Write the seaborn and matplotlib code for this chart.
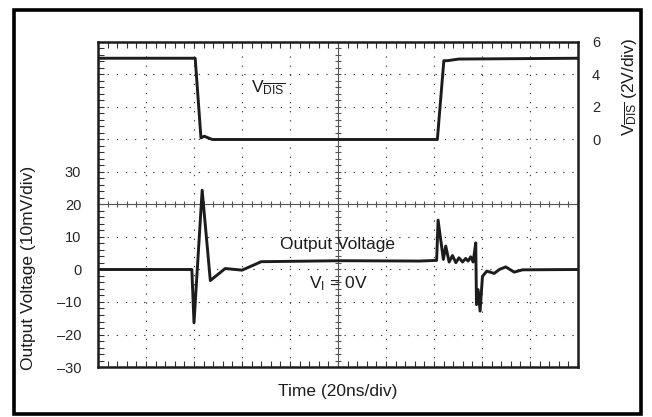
import numpy as np
import matplotlib
matplotlib.use("Agg")
import matplotlib.pyplot as plt
from matplotlib.patches import Rectangle
from matplotlib.ticker import MultipleLocator, NullFormatter
import seaborn as sns

# --- V_DIS enable signal (V), time in ns
vdis_t = [0, 40.5, 42.9, 44.3, 47.6, 141.4, 144.1, 145.6, 150.3, 200]
vdis_v = [5.0, 5.0, 0.1, 0.2, 0.0, 0.0, 4.85, 4.85, 4.95, 5.0]

# --- Output voltage (mV), time in ns
out_t = [0, 39.1, 40.0, 43.4, 46.8, 53.0, 60.0, 66.5, 68.0, 101, 134, 141.1, 141.7,
         143.9, 144.9, 146.3, 147.7, 149.1, 150.4, 151.9, 153.2, 154.2, 155.3, 156.3,
         157.4, 157.7, 158.4, 159.2, 160.2, 162.0, 165.1, 167.2, 169.9, 173.4, 176.9, 200]
out_v = [0, 0, -16.4, 24.4, -3.4, 0.3, -0.2, 1.9, 2.4, 2.7, 2.6, 2.8, 15.2,
         3.1, 7.2, 2.3, 4.3, 2.1, 3.6, 2.3, 3.4, 2.6, 3.9, 2.3,
         8.2, -10.8, -6.2, -12.8, -2.1, -0.5, -1.2, 0.0, 0.8, -0.8, -0.1, 0]

left_ticks = [-30, -20, -10, 0, 10, 20, 30]
right_ticks = [0, 2, 4, 6]

sns.set_style("white")
plt.rcParams["font.family"] = ["Liberation Sans", "DejaVu Sans"]
plt.rcParams["mathtext.default"] = "regular"
FS_TICK = 10.5
FS = 12.5
INK = "#1c1c1c"
GRID = "#3a3a3a"

fig = plt.figure(figsize=(6.52, 4.17), dpi=100)
ax = fig.add_axes([0.1503, 0.1199, 0.7362, 0.7794])
ax.set_xlim(0, 200)
ax.set_ylim(-30, 70)

# graticule: dotted division lines, solid centre axes with tick marks
dots = (0, (1.2, 7.0))
for x in range(20, 200, 20):
    if x != 100:
        ax.axvline(x, color=GRID, lw=0.8, ls=dots, zorder=1)
for y in range(-20, 70, 10):
    if y != 20:
        ax.axhline(y, color=GRID, lw=0.8, ls=dots, zorder=1)
ax.axhline(20, color="#555555", lw=0.8, zorder=1)
ax.axvline(100, color="#555555", lw=0.8, zorder=1)
hx = np.arange(4, 200, 4)
ax.plot(hx, np.full_like(hx, 20.0, dtype=float), ls="none", marker="|", ms=5,
        mew=0.8, color="#555555", zorder=1)
vy = np.arange(-28, 70, 2)
ax.plot(np.full_like(vy, 100.0, dtype=float), vy, ls="none", marker="_", ms=5,
        mew=0.8, color="#555555", zorder=1)

# output voltage trace
sns.lineplot(x=out_t, y=out_v, ax=ax, color=INK, linewidth=2.1,
             estimator=None, sort=False, zorder=3)

ax.set_xticks(np.arange(0, 201, 20))
ax.xaxis.set_minor_locator(MultipleLocator(4))
ax.xaxis.set_major_formatter(NullFormatter())
ax.set_yticks(left_ticks)
ax.set_yticklabels([str(v).replace("-", "\u2013") for v in left_ticks], fontsize=FS_TICK)
ax.yaxis.set_minor_locator(MultipleLocator(2))
ax.tick_params(which="both", direction="in", length=4, width=0.8, color="#333333",
               top=True, right=True, bottom=True, left=True, pad=12)
ax.set_xlabel("")
ax.set_ylabel("")
for s in ax.spines.values():
    s.set_visible(True)
    s.set_linewidth(1.8)
    s.set_color(INK)

# V_DIS trace on the right-hand scale
ax2 = ax.twinx()
ax2.set_ylim(-14, 6)
sns.lineplot(x=vdis_t, y=vdis_v, ax=ax2, color=INK, linewidth=2.1,
             estimator=None, sort=False, zorder=3)
ax2.set_yticks(right_ticks)
ax2.set_yticklabels([str(v) for v in right_ticks], fontsize=FS_TICK)
ax2.tick_params(axis="y", length=0, pad=10)
ax2.set_ylabel("")
for s in ax2.spines.values():
    s.set_visible(False)

# annotations
ax.text(71, 56, r"$V_{\overline{DIS}}$", fontsize=FS, ha="center", va="center", color=INK)
ax.text(100, 7.7, "Output Voltage", fontsize=FS, ha="center", va="center", color=INK)
ax.text(100, -4.3, r"$V_I$ = 0V", fontsize=FS, ha="center", va="center", color=INK)

fig.text(0.043, 0.358, "Output Voltage (10mV/div)", rotation=90, fontsize=FS,
         ha="center", va="center", color=INK)
fig.text(0.965, 0.791, r"$V_{\overline{DIS}}$ (2V/div)", rotation=90, fontsize=FS,
         ha="center", va="center", color=INK)
fig.text(0.518, 0.062, "Time (20ns/div)", fontsize=FS, ha="center", va="center", color=INK)

# frame around the whole figure
fig.patches.append(Rectangle((0.0215, 0.0072), 0.9615, 0.969, transform=fig.transFigure,
                             fill=False, lw=2.6, ec="black"))

fig.savefig("out.png", dpi=100)
